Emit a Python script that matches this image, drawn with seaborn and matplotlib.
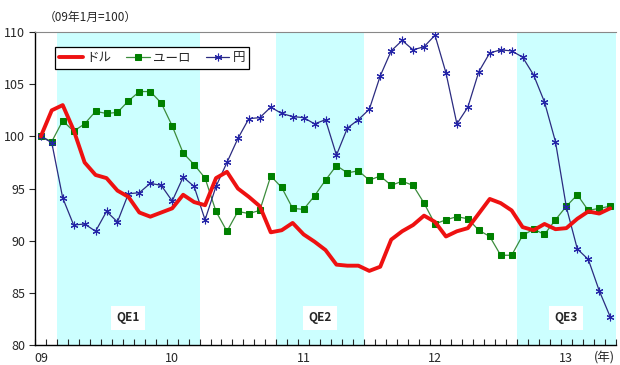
import numpy as np
import pandas as pd
import matplotlib
matplotlib.use('Agg')
import matplotlib.pyplot as plt
import seaborn as sns

# 09年1月=100, 月次 (09/01 ~ 13/05)
dollar = [100.0, 102.5, 103.0, 100.6, 97.5, 96.3, 96.0, 94.8, 94.2, 92.7,
          92.3, 92.7, 93.1, 94.4, 93.7, 93.4, 96.0, 96.6, 95.0, 94.2,
          93.3, 90.8, 91.0, 91.7, 90.6, 89.9, 89.1, 87.7, 87.6, 87.6,
          87.1, 87.5, 90.1, 90.9, 91.5, 92.4, 91.8, 90.4, 90.9, 91.2,
          92.6, 94.0, 93.6, 92.9, 91.3, 91.0, 91.6, 91.1, 91.2, 92.1,
          92.8, 92.6, 93.1]
euro = [100.0, 99.5, 101.5, 100.5, 101.2, 102.4, 102.2, 102.3, 103.4, 104.3,
        104.3, 103.2, 101.0, 98.4, 97.3, 96.0, 92.8, 90.9, 92.8, 92.6,
        92.9, 96.2, 95.1, 93.1, 93.0, 94.3, 95.8, 97.2, 96.5, 96.7,
        95.8, 96.2, 95.3, 95.7, 95.3, 93.6, 91.6, 92.0, 92.3, 92.1,
        91.0, 90.4, 88.6, 88.6, 90.5, 91.1, 90.6, 92.0, 93.3, 94.4,
        92.9, 93.1, 93.3]
yen = [100.0, 99.4, 94.1, 91.5, 91.6, 90.9, 92.8, 91.8, 94.5, 94.6,
       95.5, 95.3, 93.8, 96.1, 95.2, 92.0, 95.2, 97.5, 99.8, 101.7,
       101.8, 102.8, 102.2, 101.9, 101.8, 101.2, 101.6, 98.2, 100.8, 101.6,
       102.6, 105.8, 108.2, 109.2, 108.3, 108.6, 109.7, 106.1, 101.2, 102.8,
       106.2, 108.0, 108.3, 108.2, 107.6, 105.9, 103.3, 99.5, 93.2, 89.2,
       88.2, 85.2, 82.7]

year_labels = ["09", "10", "11", "12", "13"]
qe_names = ["QE1", "QE2", "QE3"]
qe_start = [1.5, 21.5, 43.5]   # month index
qe_end = [14.5, 29.5, 52.5]

months = np.arange(len(dollar))
df = pd.DataFrame({"m": months, "dollar": dollar, "euro": euro, "yen": yen})

sns.set_style("ticks")
plt.rcParams['font.family'] = ['Noto Sans CJK JP', 'DejaVu Sans']

fig = plt.figure(figsize=(6.2, 3.65), dpi=100)
ax = fig.add_axes([0.057, 0.055, 0.936, 0.857])

# QE shading
for name, s, e in zip(qe_names, qe_start, qe_end):
    ax.axvspan(s, e, color='#CCFFFF', lw=0, zorder=0)
    ax.text((s + e) / 2, 82.6, name, ha='center', va='center', fontsize=8.5,
            fontweight='bold', zorder=1,
            bbox=dict(boxstyle='square,pad=0.45', fc='white', ec='none'))

sns.lineplot(data=df, x="m", y="dollar", ax=ax, color='#EE1111', lw=2.8,
             label="ドル", zorder=4)
sns.lineplot(data=df, x="m", y="euro", ax=ax, color='#3C8C3C', lw=0.9,
             marker='s', markersize=4.5, markerfacecolor='#008000',
             markeredgecolor='#008000', label="ユーロ", zorder=3)
sns.lineplot(data=df, x="m", y="yen", ax=ax, color='#2B2B80', lw=0.9,
             marker=(6, 2, 0), markersize=5.5, markeredgecolor='#2424A8',
             markeredgewidth=0.8, label="円", zorder=3)

ax.set_xlim(-0.5, 52.5)
ax.set_ylim(80, 110)
ax.set_yticks(np.arange(80, 111, 5))
ax.set_xticks(np.arange(0, 49, 12))
ax.set_xticklabels(year_labels)
ax.set_xticks(np.arange(-0.5, 52.6, 1), minor=True)
ax.tick_params(axis='x', which='major', length=0, pad=5, labelsize=9)
ax.tick_params(axis='x', which='minor', direction='in', length=4, width=0.8)
ax.tick_params(axis='y', direction='out', length=4, width=0.8, labelsize=9)
ax.set_xlabel("")
ax.set_ylabel("")

for side in ['left', 'bottom']:
    ax.spines[side].set_color('black')
    ax.spines[side].set_linewidth(1.0)
ax.spines['top'].set_visible(True)
ax.spines['top'].set_color('#888888')
ax.spines['top'].set_linewidth(0.8)
ax.spines['right'].set_visible(False)

ax.annotate("(年)", xy=(0.998, 0), xycoords='axes fraction',
            xytext=(0, -5), textcoords='offset points', ha='right', va='top',
            fontsize=9)
fig.text(0.070, 0.952, "（09年1月=100）", fontsize=8.5, ha='left', va='center')

leg = ax.legend(loc='upper left', bbox_to_anchor=(0.034, 0.953), ncol=3,
                frameon=True, fancybox=False, edgecolor='black', fontsize=9,
                handlelength=1.9, columnspacing=1.2, borderpad=0.35,
                handletextpad=0.25, borderaxespad=0)
leg.get_frame().set_linewidth(0.9)
leg.get_frame().set_alpha(1)

fig.savefig("out.png", dpi=100)
